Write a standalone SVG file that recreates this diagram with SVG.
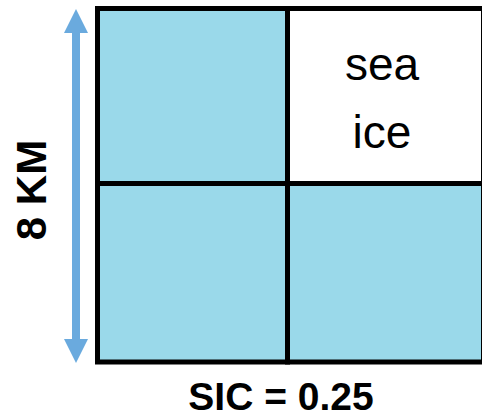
<svg xmlns="http://www.w3.org/2000/svg" width="482" height="417" viewBox="0 0 482 417">
  <style>
    .cell { stroke: #000; stroke-width: 5; }
    .water { fill: #9ad9ea; }
    .ice { fill: #ffffff; }
    .label { font-family: "Liberation Sans", Arial, sans-serif; fill: #000; }
    .bold { font-weight: bold; }
  </style>
  <defs>
    <marker id="head" viewBox="0 0 24 24" refX="0" refY="12" markerWidth="24" markerHeight="24" markerUnits="userSpaceOnUse" orient="auto">
      <path d="M0,0 L24,12 L0,24 Z" fill="#6aaade"/>
    </marker>
  </defs>

  <!-- 2x2 grid of cells -->
  <g id="cell-top-left"><rect class="cell water" x="97.5" y="8.5" width="190" height="175"/></g>
  <g id="cell-top-right">
    <rect class="cell ice" x="287.5" y="8.5" width="196" height="175"/>
    <text class="label" x="382" y="80" font-size="46" text-anchor="middle">sea</text>
    <text class="label" x="382" y="148" font-size="46" text-anchor="middle">ice</text>
  </g>
  <g id="cell-bottom-left"><rect class="cell water" x="97.5" y="183.5" width="190" height="178.5"/></g>
  <g id="cell-bottom-right"><rect class="cell water" x="287.5" y="183.5" width="196" height="178.5"/></g>

  <!-- scale arrow -->
  <g id="connectors">
    <line x1="76" y1="186" x2="76" y2="33" stroke="#6aaade" stroke-width="8" marker-end="url(#head)"/>
    <line x1="76" y1="186" x2="76" y2="339" stroke="#6aaade" stroke-width="8" marker-end="url(#head)"/>
  </g>

  <g id="scale-label">
    <text class="label bold" x="0" y="0" font-size="42" text-anchor="middle" transform="translate(46 190) rotate(-90)">8 KM</text>
  </g>
  <g id="sic-label">
    <text class="label bold" x="281" y="410" font-size="39" text-anchor="middle">SIC = 0.25</text>
  </g>
</svg>
